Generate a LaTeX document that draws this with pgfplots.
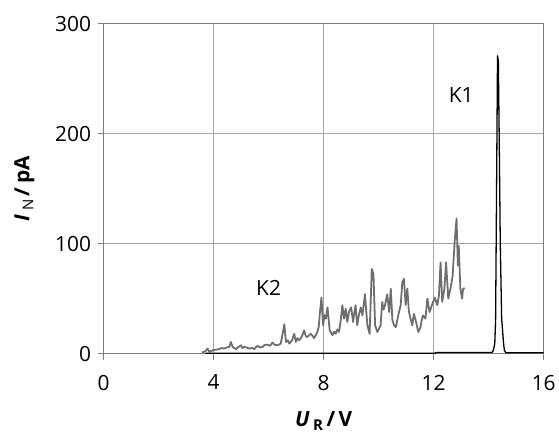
\documentclass[border=0pt]{standalone}
\usepackage{pgfplots}
\pgfplotsset{compat=1.18}
\usepackage{fontspec}
\setmainfont{Open Sans}
\definecolor{axisgray}{HTML}{7F7F7F}
\definecolor{gridgray}{HTML}{A6A6A6}
\definecolor{ktwo}{HTML}{6E6E6E}
\begin{document}
\begin{tikzpicture}
\begin{axis}[
  scale only axis,
  width=442bp, height=331bp,
  xmin=0, xmax=16, ymin=0, ymax=300,
  xtick={0,4,8,12,16},
  ytick={0,100,200,300},
  grid=major,
  major grid style={gridgray, line width=0.8bp},
  axis line style={axisgray, line width=1bp},
  tick style={axisgray, line width=0.8bp},
  tick align=outside,
  major tick length=6bp,
  axis x line*=box, axis y line*=box,
  xtick pos=bottom, ytick pos=left,
  /pgf/number format/assume math mode=true,
  ticklabel style={font=\fontsize{21bp}{24bp}\selectfont},
  xticklabel style={yshift=-12bp},
  yticklabel style={xshift=-3bp},
  xlabel={\textbf{\textit{U}\,\raisebox{-0.35ex}{\fontsize{15bp}{16bp}\selectfont R}\,/\,V}},
  ylabel={\textbf{\textit{I}\,\raisebox{-0.35ex}{\fontsize{15bp}{16bp}\selectfont\mdseries N}\,/\,pA}},
  label style={font=\fontsize{21bp}{24bp}\selectfont},
  xlabel style={yshift=-14bp},
  ylabel style={yshift=14bp},
  clip=false,
]
% K2
\addplot[ktwo, line width=1.8bp, line join=round] coordinates {
(3.58,1)(3.7,2)(3.78,4.5)(3.85,1.5)(3.97,3)(4.08,3.5)(4.2,4)(4.3,5)(4.39,4.5)(4.48,5.5)(4.57,6)(4.63,10.5)(4.69,6)(4.75,5)(4.81,4)
(4.9,6)(5.0,7.5)(5.05,5)(5.11,6)(5.2,5.5)(5.3,4.5)(5.4,5)(5.48,4)(5.55,6)(5.6,7)(5.7,5.5)(5.78,6)(5.86,8)(5.96,8)(6.05,7)(6.14,10)(6.22,8)(6.32,7.5)(6.44,9)
(6.5,16.6)(6.57,26.6)(6.63,10.5)(6.7,12)(6.75,9)(6.85,12)(6.93,18)(6.99,10.5)(7.05,14)(7.11,12)(7.2,15)(7.29,21)(7.35,16)(7.41,15)(7.53,18)
(7.6,16)(7.65,14)(7.72,17)(7.77,19.6)(7.82,24)(7.86,36)(7.92,51)(7.98,25.7)(8.03,35)(8.08,31.7)(8.14,42)(8.22,21)(8.27,19)(8.32,16.6)(8.38,20)(8.44,18)
(8.5,22)(8.56,19.6)(8.62,30)(8.68,44)(8.74,31.7)(8.8,40.8)(8.86,28.7)(8.92,37.8)(9.0,42)(9.07,28.7)(9.12,38)(9.16,44)(9.22,25.7)(9.28,35)
(9.35,42)(9.41,34.7)(9.5,54)(9.59,25.7)(9.67,18)(9.75,77)(9.81,72.5)(9.87,25.7)(9.95,19.6)(10.0,22)(10.07,25.7)
(10.13,47)(10.18,40)(10.23,44)(10.31,54)(10.38,37.8)(10.44,59)(10.5,30)(10.56,25.7)(10.62,24)(10.66,28)(10.71,34.7)(10.8,44)
(10.86,65)(10.92,68)(10.98,44)(11.04,59)(11.1,37.8)(11.16,31.7)(11.22,25.7)(11.28,36)(11.36,28.7)(11.44,19.6)
(11.52,24)(11.56,30)(11.61,34.7)(11.7,31.7)(11.77,50)(11.85,37.8)(11.95,45)(12.04,51)(12.13,44)(12.19,53)(12.25,83)
(12.31,47)(12.39,59)(12.45,83)(12.53,50)(12.61,59)(12.69,71)(12.76,101)(12.83,123)(12.88,80)(12.91,98)
(12.97,59)(13.03,50)(13.07,59)(13.13,59.5)
};
% K1
\addplot[black, line width=1.3bp, line join=round] coordinates {
(3.7,0.3)(12.05,0.3)(12.1,1)(13.5,1)(14.12,1)(14.17,3)(14.22,9)(14.25,30)(14.28,130)(14.32,271)
(14.35,266)(14.38,200)(14.42,100)(14.47,32)(14.54,9)(14.57,3)(14.62,0.8)(16,0.8)
};
\node[font=\fontsize{21bp}{24bp}\selectfont] at (axis cs:13.0,235) {K1};
\node[font=\fontsize{21bp}{24bp}\selectfont] at (axis cs:6.0,60) {K2};
\path ([shift={(-104bp,-82bp)}]current axis.south west) rectangle ([shift={(13bp,24bp)}]current axis.north east);
\end{axis}
\end{tikzpicture}
\end{document}
